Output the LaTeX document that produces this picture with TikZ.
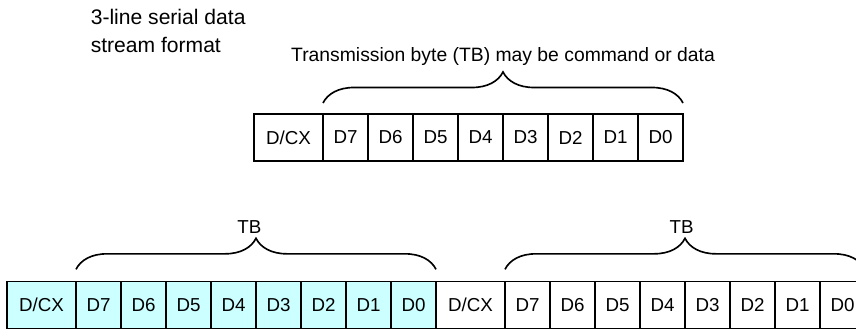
\documentclass[tikz,border=0pt]{standalone}
\usepackage{fontspec}
\setmainfont{Liberation Sans}
\usepackage{tikz}
\usetikzlibrary{decorations.pathreplacing, calc, positioning}

\definecolor{tbcyan}{RGB}{204,255,255}

\begin{document}
\begin{tikzpicture}[
		bitcell/.style={draw, line width=1pt, outer sep=0pt, inner sep=0pt, minimum width=1.35cm, minimum height=1.41cm, font=\fontsize{16}{19}\selectfont},
		dcxcell/.style={bitcell, minimum width=2.07cm},
		shaded/.style={fill=tbcyan},
		tbbrace/.style={decorate, decoration={brace, amplitude=0.93cm}, line width=1.4pt},
		tblabel/.style={font=\fontsize{16}{19}\selectfont}
	]
		% Frame
		\useasboundingbox (0,0) rectangle (25.68,9.87);
		
		% Title
		\node[anchor=west, align=left, font=\fontsize{18}{24}\selectfont] (title) at (2.6,8.93) {3-line serial data\\stream format};
		
		% Single transmission byte
		\node[dcxcell, anchor=west] (tx) at (7.62,5.745) {D/CX};
		\foreach \i/\p in {7/x,6/7,5/6,4/5,3/4,2/3,1/2,0/1}
			\node[bitcell, right=0pt of t\p] (t\i) {D\i};
		
		\coordinate (tbL) at ([yshift=0.33cm]t7.north west);
		\coordinate (tbR) at ([yshift=0.33cm]t0.north east);
		\draw[tbbrace] (tbL) -- (tbR);
		\node[font=\fontsize{16.5}{19}\selectfont] (tbtext) at ($(tbL)!0.5!(tbR)+(0,1.38)$) {Transmission byte (TB) may be command or data};
		
		% Stream: first byte (shaded)
		\node[dcxcell, shaded, anchor=west] (ax) at (0.21,0.725) {D/CX};
		\foreach \i/\p in {7/x,6/7,5/6,4/5,3/4,2/3,1/2,0/1}
			\node[bitcell, shaded, right=0pt of a\p] (a\i) {D\i};
		
		% Stream: second byte
		\node[dcxcell, right=0pt of a0] (bx) {D/CX};
		\foreach \i/\p in {7/x,6/7,5/6,4/5,3/4,2/3,1/2,0/1}
			\node[bitcell, right=0pt of b\p] (b\i) {D\i};
		
		% Braces over the stream
		\coordinate (aL) at ([yshift=0.36cm]a7.north west);
		\coordinate (aR) at ([yshift=0.36cm]a0.north east);
		\draw[tbbrace] (aL) -- (aR);
		\node[tblabel] (atb) at ($(aL)!0.5!(aR)+(-0.2,1.26)$) {TB};
		
		\coordinate (bL) at ([yshift=0.36cm]b7.north west);
		\coordinate (bR) at ([yshift=0.36cm]b0.north east);
		\draw[tbbrace] (bL) -- (bR);
		\node[tblabel] (btb) at ($(bL)!0.5!(bR)+(-0.1,1.26)$) {TB};
	\end{tikzpicture}
\end{document}
